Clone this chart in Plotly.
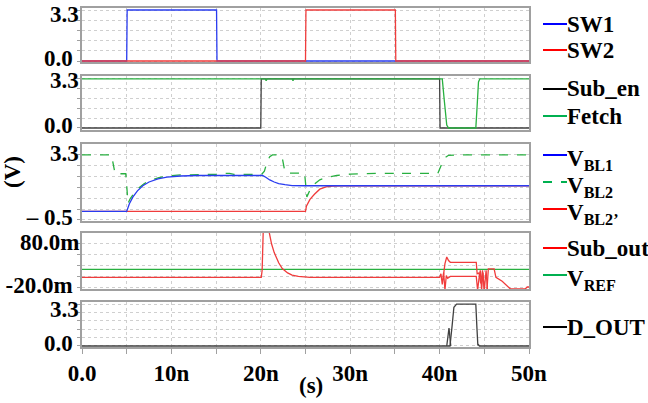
import plotly.graph_objects as go

W, H = 648, 403

# ---------------- data (time in ns, values in V) ----------------
sw1_t = [0, 5.0, 5.05, 15.05, 15.1, 50]
sw1_v = [0, 0, 3.3, 3.3, 0, 0]
sw2_t = [0, 25.0, 25.05, 35.05, 35.1, 50]
sw2_v = [0, 0, 3.3, 3.3, 0, 0]

suben_t = [0, 20.0, 20.05, 40.0, 40.05, 50]
suben_v = [0, 0, 3.3, 3.3, 0, 0]
fetch_t = [0, 20.5, 20.6, 20.7, 23.5, 23.6, 23.7, 40.3, 40.5, 40.8, 41.0, 44.05, 44.2, 44.35, 44.5, 50]
fetch_v = [3.3, 3.3, 3.18, 3.3, 3.3, 3.18, 3.3, 3.3, 2.0, 0.2, 0.0, 0.0, 1.5, 3.1, 3.3, 3.3]

vbl1_t = [0, 5.0, 5.3, 5.7, 6.2, 6.8, 7.5, 8.5, 9.5, 11, 13, 20.2, 20.6, 21.0, 21.5, 22.0, 22.7, 23.5, 25, 50]
vbl1_v = [0, 0, 0.45, 0.85, 1.2, 1.5, 1.72, 1.9, 2.0, 2.07, 2.1, 2.1, 1.98, 1.84, 1.72, 1.63, 1.56, 1.51, 1.5, 1.5]
vbl2_t = [0, 3.3, 3.7, 4.9, 5.15, 5.4, 5.8, 6.3, 6.9, 7.6, 8.6, 9.6, 11, 15, 15.5, 16.5, 17, 20.1, 20.4, 20.7, 21.0, 21.3,
          22.2, 22.45, 22.7, 23.0, 24.9, 25.15, 25.5, 26.0, 26.6, 27.5, 28.5, 30, 33, 35, 35.2, 35.5, 39.8, 40.1, 40.5, 41.0, 42, 50]
vbl2_v = [3.3, 3.3, 2.2, 2.2, 0.47, 0.75, 1.05, 1.35, 1.6, 1.82, 1.97, 2.07, 2.13, 2.17, 2.22, 2.22, 2.17, 2.17, 2.35, 2.9, 3.2, 3.3,
          3.3, 3.0, 2.3, 2.24, 2.24, 0.85, 1.25, 1.6, 1.85, 2.0, 2.1, 2.18, 2.22, 2.22, 2.3, 2.22, 2.22, 2.6, 3.1, 3.28, 3.3, 3.3]
vbl2p_t = [0, 25.0, 25.1, 25.5, 26.0, 26.6, 27.3, 28.0, 29.0, 30, 50]
vbl2p_v = [0, 0, 0.3, 0.7, 1.0, 1.3, 1.43, 1.48, 1.5, 1.5, 1.5]

subout_t = [0, 20.05, 20.15, 20.3, 20.6, 20.95, 21.2, 21.5, 22.0, 22.4, 23.0, 23.5, 24.2, 25.5, 40.0, 40.15, 40.3, 40.45,
            40.6, 40.75, 40.9, 41.2, 44.1, 44.25, 44.4, 44.55, 44.7, 44.85, 45.0, 45.3, 45.45, 45.6, 46.1, 46.3, 47.0,
            47.9, 49.6, 49.8, 50]
subout_v = [0.004, 0.004, 0.02, 0.13, 0.17, 0.105, 0.08, 0.06, 0.037, 0.024, 0.014, 0.009, 0.006, 0.004, 0.004, 0.012,
            -0.012, 0.015, -0.025, 0.008, 0.002, 0.006, 0.006, -0.025, 0.0, 0.02, -0.025, 0.015, -0.025, -0.025, 0.023,
            0.023, 0.023, 0.004, -0.005, -0.022, -0.022, -0.018, -0.018]
subout2_t = [40.4, 40.6, 40.8, 41.0, 41.2, 44.1, 44.2, 44.4, 44.6, 44.8, 45.0, 45.2, 45.35]
subout2_v = [0.004, 0.035, 0.05, 0.042, 0.038, 0.038, 0.012, 0.014, -0.01, 0.02, -0.025, 0.02, -0.025]
vref_t = [0, 50]
vref_v = [0.022, 0.022]

dout_t = [0, 41.16, 41.4, 41.6, 41.9, 44.05, 44.17, 44.28, 44.35, 44.45, 50]
dout_v = [0, 0, 1.6, 3.05, 3.3, 3.3, 1.5, 0.05, 0.1, 0, 0]
dout2_t = [40.8, 41.05, 41.25]
dout2_v = [0, 1.4, 0]

x_tickvals = [0, 10, 20, 30, 40, 50]
x_ticktext = ["0.0", "10n", "20n", "30n", "40n", "50n"]

# ---------------- style ----------------
BLUE, RED, GREEN, BLACK = "#2a3cf0", "#f03c3c", "#28b040", "#404040"
LBLUE, LRED, LGREEN, LBLACK = "#0000ff", "#ff0000", "#00b050", "#000000"
FRAME, GRID = "#a0a0a0", "#cfcfcf"
FAMILY = "Liberation Serif"
FONT = dict(family=FAMILY, size=23, color="black", weight="bold")


def xp(px):
    return px / W


def yp(py):
    return 1 - py / H


fig = go.Figure()


def add(t, v, color, row, name, dash="solid", width=1.3):
    s = "" if row == 1 else str(row)
    fig.add_trace(go.Scatter(x=t, y=v, mode="lines", name=name,
                             line=dict(color=color, width=width, dash=dash),
                             xaxis="x" + s, yaxis="y" + s, showlegend=False))


add(sw1_t, sw1_v, BLUE, 1, "SW1")
add(sw2_t, sw2_v, RED, 1, "SW2")
add(suben_t, suben_v, BLACK, 2, "Sub_en")
add(fetch_t, fetch_v, GREEN, 2, "Fetch")
add(vbl2p_t, vbl2p_v, RED, 3, "V_BL2'")
add(vbl2_t, vbl2_v, GREEN, 3, "V_BL2", dash="dash")
add(vbl1_t, vbl1_v, BLUE, 3, "V_BL1")
add(vref_t, vref_v, GREEN, 4, "V_REF")
add(subout_t, subout_v, RED, 4, "Sub_out")
add(subout2_t, subout2_v, RED, 4, "Sub_out")
add(dout2_t, dout2_v, BLACK, 5, "D_OUT")
add(dout_t, dout_v, BLACK, 5, "D_OUT")

panels = [
    # (top px, bottom px, range, [low, high] ticks, [low, high] text, minor ticks, high-label shift px)
    (8, 62, [-0.065, 3.43], [0, 3.3], ["0.0", "3.3"], [0.66, 1.32, 1.98, 2.64], -3),
    (76, 130, [-0.135, 3.50], [0, 3.3], ["0.0", "3.3"], [0.66, 1.32, 1.98, 2.64], -1),
    (144, 221, [-0.56, 3.94], [-0.5, 3.3], ["– 0.5", "3.3"], [2.667, 2.033, 1.4, 0.767, 0.133], 2),
    (233, 289, [-0.0225, 0.1044], [-0.02, 0.08], ["-20.0m", "80.0m"], [0.005, 0.03, 0.055], 2),
    (302, 347, [-0.08, 3.46], [0, 3.3], ["0.0", "3.3"], [0.66, 1.32, 1.98, 2.64], -4),
]

layout = dict(width=W, height=H, margin=dict(l=0, r=0, t=0, b=0),
              paper_bgcolor="white", plot_bgcolor="white", showlegend=False,
              font=FONT)

for i, (top, bot, yr, tv, tt, mv, hshift) in enumerate(panels):
    s = "" if i == 0 else str(i + 1)
    last = i == 4
    layout["xaxis" + s] = dict(
        domain=[xp(82), xp(529)], range=[0, 50], anchor="y" + s,
        showline=True, mirror=True, linecolor=FRAME, linewidth=1.5,
        tickvals=x_tickvals, ticktext=x_ticktext, showticklabels=last,
        ticks="outside" if last else "", ticklen=5, tickcolor=FRAME,
        showgrid=True, gridcolor=GRID, griddash="dot", gridwidth=1,
        minor=dict(tickvals=[5, 15, 25, 35, 45], showgrid=True, gridcolor=GRID,
                   griddash="dot", ticks="outside" if last else "", ticklen=5,
                   tickcolor=FRAME),
        zeroline=False, tickfont=FONT, automargin=False,
        ticklabeloverflow="allow")
    # y axis: low label drawn by the axis; high tick mark/grid as a minor tick, its label as text
    layout["yaxis" + s] = dict(
        domain=[yp(bot), yp(top)], range=yr, anchor="x" + s,
        showline=True, mirror=True, linecolor=FRAME, linewidth=1.5,
        tickvals=[tv[0]], ticktext=[tt[0]], ticks="outside", ticklen=3, tickcolor=FRAME,
        showgrid=True, gridcolor=GRID, griddash="dot",
        minor=dict(tickvals=mv + [tv[1]], showgrid=True, gridcolor=GRID, griddash="dot",
                   ticks="outside", ticklen=3, tickcolor=FRAME),
        zeroline=False, tickfont=FONT, automargin=False,
        ticklabeloverflow="allow", ticklabelshift=-3)

fig.update_layout(**layout)

for i, (top, bot, yr, tv, tt, mv, hshift) in enumerate(panels):
    s = "" if i == 0 else str(i + 1)
    fig.add_annotation(text=tt[1], xref="paper", yref="y" + s, x=xp(81), y=tv[1],
                       xanchor="right", yanchor="middle", showarrow=False, font=FONT,
                       yshift=hshift - 1)

# ---------------- manual legends ----------------
legend_items = [
    ("SW1", LBLUE, "solid", 24, 0),
    ("SW2", LRED, "solid", 50, 0),
    ("Sub_en", LBLACK, "solid", 89, 0),
    ("Fetch", LGREEN, "solid", 116, 0),
    ("V<sub>BL1</sub>", LBLUE, "solid", 155, -5),
    ("V<sub>BL2</sub>", LGREEN, "dash", 182, -5),
    ("V<sub>BL2’</sub>", LRED, "solid", 209, -5),
    ("Sub_out", LRED, "solid", 248, 0),
    ("V<sub>REF</sub>", LGREEN, "solid", 275, -5),
    ("D_OUT", LBLACK, "solid", 327, 0),
]
for label, col, dash, ypx, ysh in legend_items:
    fig.add_shape(type="line", xref="paper", yref="paper",
                  x0=xp(543), x1=xp(567), y0=yp(ypx), y1=yp(ypx),
                  line=dict(color=col, width=2, dash="dash" if dash == "dash" else "solid"))
    fig.add_annotation(text=label, xref="paper", yref="paper", x=xp(565), y=yp(ypx),
                       xanchor="left", yanchor="middle", showarrow=False, font=FONT,
                       yshift=ysh)

fig.add_annotation(text="(V)", xref="paper", yref="paper", x=xp(12), y=yp(172),
                   textangle=-90, showarrow=False, font=FONT, xanchor="center", yanchor="middle")
fig.add_annotation(text="(s)", xref="paper", yref="paper", x=xp(311), y=yp(385),
                   showarrow=False, font=FONT, xanchor="center", yanchor="middle")

fig.write_html("out.html", config={"displayModeBar": False},
               post_script="document.body.style.margin='0';document.body.style.padding='0';")
